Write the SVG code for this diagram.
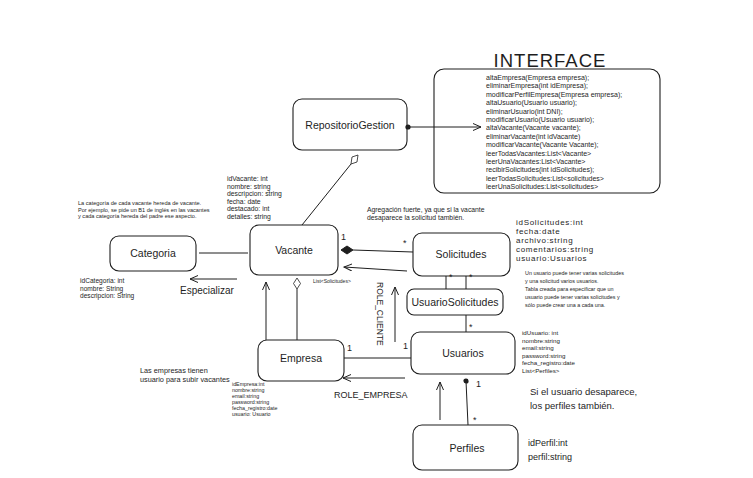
<svg xmlns="http://www.w3.org/2000/svg" width="753" height="478" viewBox="0 0 753 478">
<style>
.box{fill:#fff;stroke:#1e1e1e;stroke-width:1.1}
.ln{fill:none;stroke:#1e1e1e;stroke-width:1}
.lbl{font-family:"Liberation Sans","DejaVu Sans",sans-serif;font-size:10.5px;fill:#1e1e1e;text-anchor:middle}
.t{font-family:"Liberation Sans","DejaVu Sans",sans-serif;fill:#1e1e1e}
.mult{font-family:"Liberation Sans","DejaVu Sans",sans-serif;font-size:9px;fill:#1e1e1e}
</style>
<defs>
<marker id="arr" markerWidth="10" markerHeight="10" refX="8" refY="4" orient="auto" markerUnits="userSpaceOnUse">
<path d="M0,0.5 L8,4 L0,7.5" fill="none" stroke="#1e1e1e" stroke-width="1"/>
</marker>
<marker id="dot" markerWidth="8" markerHeight="8" refX="3" refY="3" orient="auto" markerUnits="userSpaceOnUse">
<circle cx="3" cy="3" r="2.6" fill="#1e1e1e"/>
</marker>
</defs>

<text class="t" x="550" y="67" font-size="18.5" text-anchor="middle" letter-spacing="1">INTERFACE</text>

<g id="interface">
<rect class="box" x="434" y="69" width="226" height="124" rx="10"/>
<g class="t" font-size="7">
<text x="486" y="80">altaEmpresa(Empresa empresa);</text>
<text x="486" y="88.4">eliminarEmpresa(int idEmpresa);</text>
<text x="486" y="96.8">modificarPerfilEmpresa(Empresa empresa);</text>
<text x="486" y="105.2">altaUsuario(Usuario usuario);</text>
<text x="486" y="113.6">eliminarUsuario(int DNI);</text>
<text x="486" y="122">modificarUsuario(Usuario usuario);</text>
<text x="486" y="130.4">altaVacante(Vacante vacante);</text>
<text x="486" y="138.8">eliminarVacante(int idVacante)</text>
<text x="486" y="147.2">modificarVacante(Vacante Vacante);</text>
<text x="486" y="155.6">leerTodasVacantes:List&lt;Vacante&gt;</text>
<text x="486" y="164">leerUnaVacantes:List&lt;Vacante&gt;</text>
<text x="486" y="172.4">recibirSolicitudes(int idSolicitudes);</text>
<text x="486" y="180.8">leerTodasSolicitudes:List&lt;solicitudes&gt;</text>
<text x="486" y="189.2">leerUnaSolicitudes:List&lt;solicitudes&gt;</text>
</g>
</g>

<g id="repositorio">
<rect class="box" x="293" y="99" width="114" height="51" rx="9"/>
<text class="lbl" x="350" y="129">RepositorioGestion</text>
</g>

<g id="vacante">
<rect class="box" x="250" y="225" width="88" height="50" rx="9"/>
<text class="lbl" x="294" y="254">Vacante</text>
<g class="t" font-size="6.8">
<text x="227" y="181">idVacante: int</text>
<text x="227" y="188.6">nombre: string</text>
<text x="227" y="196.2">descripcion: string</text>
<text x="227" y="203.8">fecha: date</text>
<text x="227" y="211.4">destacado: int</text>
<text x="227" y="219">detalles: string</text>
</g>
</g>

<g id="categoria">
<rect class="box" x="110" y="236" width="86" height="35" rx="9"/>
<text class="lbl" x="153" y="257">Categoria</text>
<g class="t" font-size="6.6">
<text x="80" y="283">idCategoria: int</text>
<text x="80" y="290.5">nombre: String</text>
<text x="80" y="298">descripcion: String</text>
</g>
</g>

<g id="solicitudes">
<rect class="box" x="413" y="233" width="97" height="43" rx="9"/>
<text class="lbl" x="461" y="258">Solicitudes</text>
<g class="t" font-size="8" letter-spacing="0.7">
<text x="516" y="225">idSolicitudes:int</text>
<text x="516" y="234">fecha:date</text>
<text x="516" y="243">archivo:string</text>
<text x="516" y="252">comentarios:string</text>
<text x="516" y="261">usuario:Usuarios</text>
</g>
</g>

<g id="usuarioSolicitudes">
<rect class="box" x="407" y="289" width="96" height="26" rx="7"/>
<text class="lbl" x="455" y="306">UsuarioSolicitudes</text>
</g>

<g id="usuarios">
<rect class="box" x="411" y="332" width="104" height="42" rx="9"/>
<text class="lbl" x="463" y="357">Usuarios</text>
<g class="t" font-size="6.2">
<text x="522" y="335">idUsuario: int</text>
<text x="522" y="342.5">nombre:string</text>
<text x="522" y="350">email:string</text>
<text x="522" y="357.5">password:string</text>
<text x="522" y="365">fecha_registro:date</text>
<text x="522" y="372.5">List&lt;Perfiles&gt;</text>
</g>
</g>

<g id="empresa">
<rect class="box" x="258" y="340" width="86" height="41" rx="9"/>
<text class="lbl" x="301" y="362">Empresa</text>
<g class="t" font-size="5.3">
<text x="232" y="386">idEmpresa:int</text>
<text x="232" y="392">nombre:string</text>
<text x="232" y="398">email:string</text>
<text x="232" y="404">password:string</text>
<text x="232" y="410">fecha_registro:date</text>
<text x="232" y="416">usuario: Usuario</text>
</g>
</g>

<g id="perfiles">
<rect class="box" x="413" y="425" width="105" height="45" rx="9"/>
<text class="lbl" x="467" y="452">Perfiles</text>
<g class="t" font-size="9">
<text x="528" y="446">idPerfil:int</text>
<text x="528" y="460">perfil:string</text>
</g>
</g>

<g id="notes" class="t">
<g font-size="5.6">
<text x="78" y="205">La categoría de cada vacante hereda de vacante.</text>
<text x="78" y="211.5">Por ejemplo, se pide un B1 de inglés en las vacantes</text>
<text x="78" y="218">y cada categoría hereda del padre ese aspecto.</text>
</g>
<g font-size="6.8">
<text x="367" y="212">Agregación fuerte, ya que si la vacante</text>
<text x="367" y="220">desaparece la solicitud también.</text>
</g>
<g font-size="5.4">
<text x="525" y="275">Un usuario puede tener varias solicitudes</text>
<text x="525" y="283">y una solicitud varios usuarios.</text>
<text x="525" y="291">Tabla creada para especificar que un</text>
<text x="525" y="299">usuario puede tener varias solicitudes y</text>
<text x="525" y="307">sólo puede crear una a cada una.</text>
</g>
<g font-size="7.3">
<text x="140" y="373">Las empresas tienen</text>
<text x="140" y="382">usuario para subir vacantes</text>
</g>
<g font-size="9.5">
<text x="530" y="395">Si el usuario desaparece,</text>
<text x="530" y="409">los perfiles también.</text>
</g>
<text x="180" y="294" font-size="10">Especializar</text>
<text x="334" y="398" font-size="9">ROLE_EMPRESA</text>
<text x="0" y="0" font-size="8.5" transform="translate(377,282) rotate(90)">ROLE_CLIENTE</text>
<text x="313" y="283" font-size="5">List&lt;Solicitudes&gt;</text>
</g>

<g id="connectors">
<line class="ln" x1="408" y1="127" x2="481" y2="127" marker-start="url(#dot)" marker-end="url(#arr)"/>
<line class="ln" x1="302" y1="225" x2="351" y2="164"/>
<path d="M351,164 L352,157 L358,155 L357,162 Z" fill="#fff" stroke="#1e1e1e" stroke-width="0.8"/>
<line class="ln" x1="199" y1="253" x2="248" y2="253"/>
<line class="ln" x1="237" y1="279" x2="190" y2="279" marker-end="url(#arr)"/>
<line class="ln" x1="413" y1="252" x2="353" y2="250"/>
<path d="M341,250 L347,246 L353,250 L347,254 Z" fill="#1e1e1e" stroke="#1e1e1e"/>
<text class="mult" x="341" y="240">1</text>
<text class="mult" x="403" y="246">*</text>
<line class="ln" x1="407" y1="271" x2="344" y2="267" marker-end="url(#arr)"/>
<line class="ln" x1="446" y1="276" x2="446" y2="289"/>
<line class="ln" x1="466" y1="276" x2="466" y2="289"/>
<text class="mult" x="449" y="280">*</text>
<text class="mult" x="469" y="280">*</text>
<line class="ln" x1="466" y1="315" x2="466" y2="332"/>
<text class="mult" x="469" y="330">*</text>
<line class="ln" x1="395" y1="342" x2="395" y2="287" marker-end="url(#arr)"/>
<line class="ln" x1="344" y1="358" x2="411" y2="358"/>
<text class="mult" x="347" y="351">1</text>
<text class="mult" x="403" y="349">1</text>
<line class="ln" x1="405" y1="378" x2="343" y2="378" marker-end="url(#arr)"/>
<line class="ln" x1="297" y1="289" x2="297" y2="340"/>
<path d="M297,278 L300.5,283.5 L297,289 L293.5,283.5 Z" fill="#fff" stroke="#1e1e1e" stroke-width="0.8"/>
<line class="ln" x1="266" y1="340" x2="266" y2="282" marker-end="url(#arr)"/>
<line class="ln" x1="466" y1="381" x2="468" y2="425" marker-start="url(#dot)"/>
<text class="mult" x="476" y="387">1</text>
<text class="mult" x="473" y="423">*</text>
<line class="ln" x1="440" y1="420" x2="440" y2="382" marker-end="url(#arr)"/>
</g>
</svg>
